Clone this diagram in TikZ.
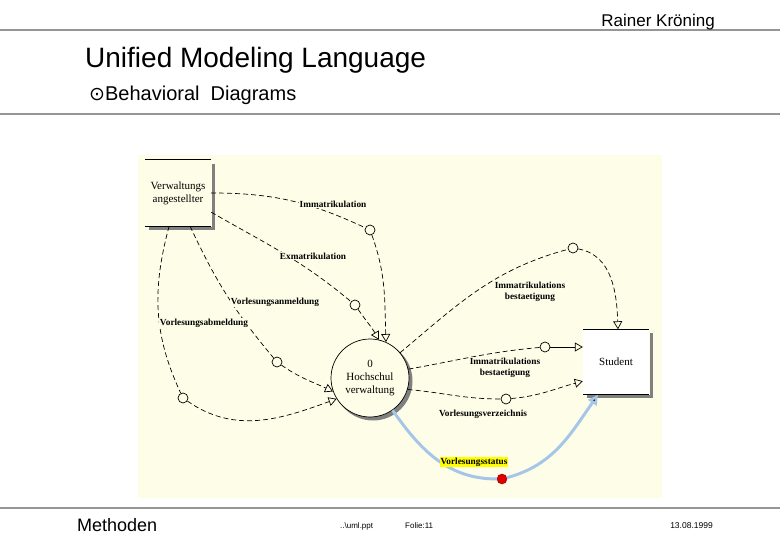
\documentclass[tikz,border=0pt]{standalone}
\usepackage{fontspec}
\usetikzlibrary{arrows.meta}
\newfontfamily\headfont{Liberation Sans}
\newfontfamily\diafont{Liberation Serif}
\newfontfamily\symbfont{DejaVu Sans}
\definecolor{bgcol}{RGB}{254,254,232}
\definecolor{rulegray}{RGB}{150,150,150}
\definecolor{shadowgray}{RGB}{128,128,128}
\definecolor{statusblue}{RGB}{166,198,232}
\definecolor{labelyellow}{RGB}{255,255,0}
\definecolor{dotred}{RGB}{225,0,0}

\begin{document}
\begin{tikzpicture}[x=1pt,y=-1pt,
		flow/.style={draw,line width=0.7pt,dash pattern=on 5pt off 3pt},
		flowarrow/.style={flow,-{Triangle[length=8pt,width=9pt,fill=bgcol]}},
		couple/.style={draw,circle,line width=0.7pt,fill=bgcol,minimum size=10pt,inner sep=0pt},
		lbl/.style={fill=bgcol,inner sep=1pt,align=center,font=\diafont\bfseries\fontsize{9.3}{10.5}\selectfont},
		ent/.style={inner sep=0pt,align=center,font=\diafont\fontsize{11}{13}\selectfont},
		shadowline/.style={draw=shadowgray,line width=3pt},
		rule/.style={draw=rulegray,line width=2pt},
		status/.style={draw=statusblue,line width=3pt}]
			\useasboundingbox (0,0) rectangle (780,540);
		
			% slide frame
			\path[rule] (0,30) -- (780,30);
			\path[rule] (0,114) -- (780,114);
			\path[rule] (0,508) -- (780,508);
			\node[anchor=base east,inner sep=0pt,font=\headfont\fontsize{17}{17}\selectfont] (author) at (715,27) {Rainer Kröning};
			\node[anchor=base west,inner sep=0pt,font=\headfont\fontsize{28}{28}\selectfont] (title) at (85,68) {Unified Modeling Language};
			\node[anchor=base west,inner sep=0pt,font=\headfont\fontsize{20}{20}\selectfont] (sub) at (89,101) {{\symbfont\fontsize{19}{19}\selectfont ⊙}Behavioral~ Diagrams};
			\node[anchor=base west,inner sep=0pt,font=\headfont\fontsize{18}{18}\selectfont] (foot) at (77,531) {Methoden};
			\node[anchor=base west,inner sep=0pt,font=\headfont\fontsize{8}{8}\selectfont] (file) at (340,528) {..\textbackslash uml.ppt};
			\node[anchor=base west,inner sep=0pt,font=\headfont\fontsize{8}{8}\selectfont] (page) at (405,528) {Folie:11};
			\node[anchor=base east,inner sep=0pt,font=\headfont\fontsize{8.5}{8.5}\selectfont] (date) at (713,528) {13.08.1999};
		
			% diagram
			\fill[bgcol] (138,155) rectangle (662,498);
		
			\node[ent,minimum width=66pt,minimum height=66pt] (V) at (178,193) {Verwaltungs\\angestellter};
			\node[ent,fill=white,minimum width=66pt,minimum height=65pt] (S) at (616,362) {Student};
			\node[circle,fill=shadowgray,minimum size=79pt,inner sep=0pt] (Hs) at (373,381) {};
			\node[ent,draw,circle,fill=bgcol,line width=0.7pt,minimum size=78pt] (H) at (370,378) {0\\Hochschul\\verwaltung};
		
			\path[shadowline] ([shift={(2,4)}]V.north east) -- ([shift={(2,2)}]V.south east) -- ([shift={(4,2)}]V.south west);
			\path[shadowline] ([shift={(2,4)}]S.north east) -- ([shift={(2,2)}]S.south east) -- ([shift={(4,2)}]S.south west);
			\draw[line width=0.8pt] (V.north west) -- (V.north east);
			\draw[line width=0.8pt] (V.south west) -- (V.south east);
			\draw[line width=0.8pt] (S.north west) -- (S.north east);
			\draw[line width=0.8pt] (S.south west) -- (S.south east);
		
			\node[couple] (c1) at (370,230) {};
			\node[couple] (c2) at (355,305) {};
			\node[couple] (c3) at (277,362) {};
			\node[couple] (c4) at (183,398) {};
			\node[couple] (c5) at (573,248) {};
			\node[couple] (c6) at (545,347) {};
			\node[couple] (c7) at (506,399) {};
		
			\path[flow] (V.east) edge[out=0,in=155] (c1);
			\path[flow] (V.-30) edge[out=-30,in=140] (c2);
			\path[flow] (V.-70) edge[out=-65,in=130] (c3);
			\path[flow] (V.-105) edge[out=-105,in=115] (c4);
		
			\path[flowarrow] (c1) edge[out=-70,in=92] (H.66);
			\path[flowarrow] (c2) edge[out=-55,in=120] (H.77);
			\path[flowarrow] (c3) edge[out=-35,in=155] (H.200);
			\path[flowarrow] (c4) edge[out=-35,in=200] (H.212);
		
			\path[flow] (H.40) edge[out=40,in=195] (c5);
			\path[flow] (H.13) edge[out=10,in=185] (c6);
			\path[flow] (H.-17) edge[out=-5,in=180] (c7);
		
			\path[flowarrow] (c5) edge[out=-10,in=92] ([xshift=2pt]S.north);
			\path[draw,line width=0.7pt,-{Triangle[length=8pt,width=9pt,fill=bgcol]}] (c6) edge (c6 -| S.west);
			\path[flowarrow] (c7) edge[out=5,in=195] (S.210);
		
			\node[circle,fill=dotred,draw=red!50!black,minimum size=10pt,inner sep=0pt] (dot) at (502,479) {};
			\path[status] (H.-55) edge[out=-55,in=180] (dot);
			\path[status,-{Triangle[length=10pt,width=10pt]}] (dot) edge[out=15,in=-125] ([xshift=-18pt]S.south);
		
			\node[lbl] (l1) at (333,204) {Immatrikulation};
			\node[lbl] (l2) at (313,256) {Exmatrikulation};
			\node[lbl] (l3) at (275,302) {Vorlesungsanmeldung};
			\node[lbl] (l4) at (204,323) {Vorlesungsabmeldung};
			\node[lbl] (l5) at (530,292) {Immatrikulations\\bestaetigung};
			\node[lbl] (l6) at (505,368) {Immatrikulations\\bestaetigung};
			\node[lbl] (l7) at (483,414) {Vorlesungsverzeichnis};
			\node[lbl,fill=labelyellow] (l8) at (474,462) {Vorlesungsstatus};
		\end{tikzpicture}
\end{document}
